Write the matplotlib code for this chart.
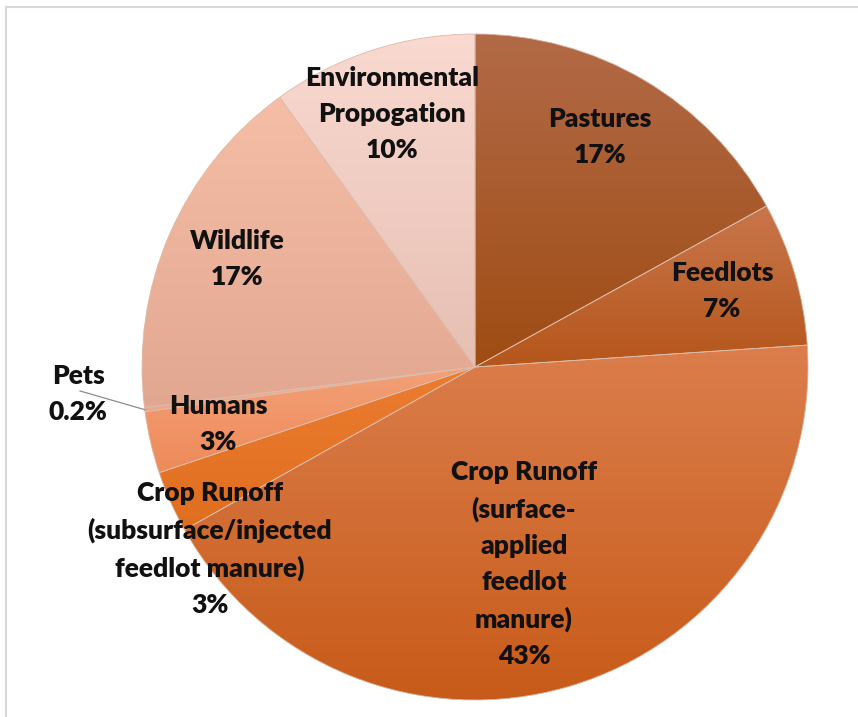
import numpy as np
import matplotlib
matplotlib.use("Agg")
import matplotlib.pyplot as plt
from matplotlib.patches import Rectangle, PathPatch
from matplotlib.colors import LinearSegmentedColormap

# data, clockwise from 12 o'clock
labels = ["Pastures", "Feedlots",
          "Crop Runoff\n(surface-\napplied\nfeedlot\nmanure)",
          "Crop Runoff\n(subsurface/injected\nfeedlot manure)",
          "Humans", "Pets", "Wildlife", "Environmental\nPropogation"]
pct_text = ["17%", "7%", "43%", "3%", "3%", "0.2%", "17%", "10%"]
values = [17, 7, 43, 3, 3, 0.2, 17, 10]

# gradient (top, bottom) per slice
top_colors = ["#b26a47", "#c9764c", "#db7e4c", "#ec7c30", "#f3a079", "#f2b49a", "#f6bea6", "#f9d9d0"]
bot_colors = ["#9f4c13", "#b5561b", "#c75a18", "#df6e1f", "#ee8a58", "#e9a68c", "#e2a791", "#e7bfb3"]

# label centres in data units (radius = 1)
label_pos = [(0.375, 0.69), (0.742, 0.228), (0.147, -0.592), (-0.796, -0.547),
             (-0.772, -0.171), (-1.192, -0.081), (-0.715, 0.324), (-0.249, 0.76)]

W, H = 858, 717
R = 333.0
cx, cy = 475, 367
fig = plt.figure(figsize=(W / 100, H / 100), dpi=100)
half = 400
ax = fig.add_axes([(cx - half) / W, (H - cy - half) / H, 2 * half / W, 2 * half / H])
L = half / R
ax.set_xlim(-L, L)
ax.set_ylim(-L, L)
ax.set_aspect("equal")
ax.axis("off")

wedges, _ = ax.pie(values, startangle=90, counterclock=False, radius=1,
                   colors=top_colors,
                   wedgeprops=dict(edgecolor="none", linewidth=0))

for w, c1, c2 in zip(wedges, top_colors, bot_colors):
    verts = w.get_path().vertices
    x0, x1 = verts[:, 0].min(), verts[:, 0].max()
    y0, y1 = verts[:, 1].min(), verts[:, 1].max()
    cmap = LinearSegmentedColormap.from_list("g", [c2, c1])
    grad = np.linspace(0, 1, 256).reshape(-1, 1)
    im = ax.imshow(grad, cmap=cmap, origin="lower", aspect="auto",
                   extent=(x0, x1, y0, y1), zorder=1.5, interpolation="bilinear")
    im.set_clip_path(w)
    w.set_zorder(1)
    # thin slice outline on top of the gradient
    ax.add_patch(PathPatch(w.get_path(), fill=False, edgecolor="#dcbcaa",
                           linewidth=0.6, zorder=2))

# restore limits after imshow
ax.set_xlim(-L, L)
ax.set_ylim(-L, L)

font = dict(family=["Lato", "DejaVu Sans"], fontweight="heavy", fontsize=19,
            color="#111111", ha="center", va="center", linespacing=1.6, zorder=3)
for lab, p, pos in zip(labels, pct_text, label_pos):
    ax.text(pos[0], pos[1], lab + "\n" + p, **font)

# leader line for the tiny Pets slice
pw = wedges[5]
mid = np.deg2rad((pw.theta1 + pw.theta2) / 2)
ax.plot([-1.186, np.cos(mid)], [-0.072, np.sin(mid)], color="#8c8c8c", lw=0.9, zorder=3)

# chart frame (only left and top visible)
fig.patches.append(Rectangle((6 / W, -0.05), 1.1, 1 - 7 / H + 0.05,
                             transform=fig.transFigure, fill=False,
                             edgecolor="#d9d9d9", linewidth=1.5))

fig.savefig("out.png", dpi=100, facecolor="white")
